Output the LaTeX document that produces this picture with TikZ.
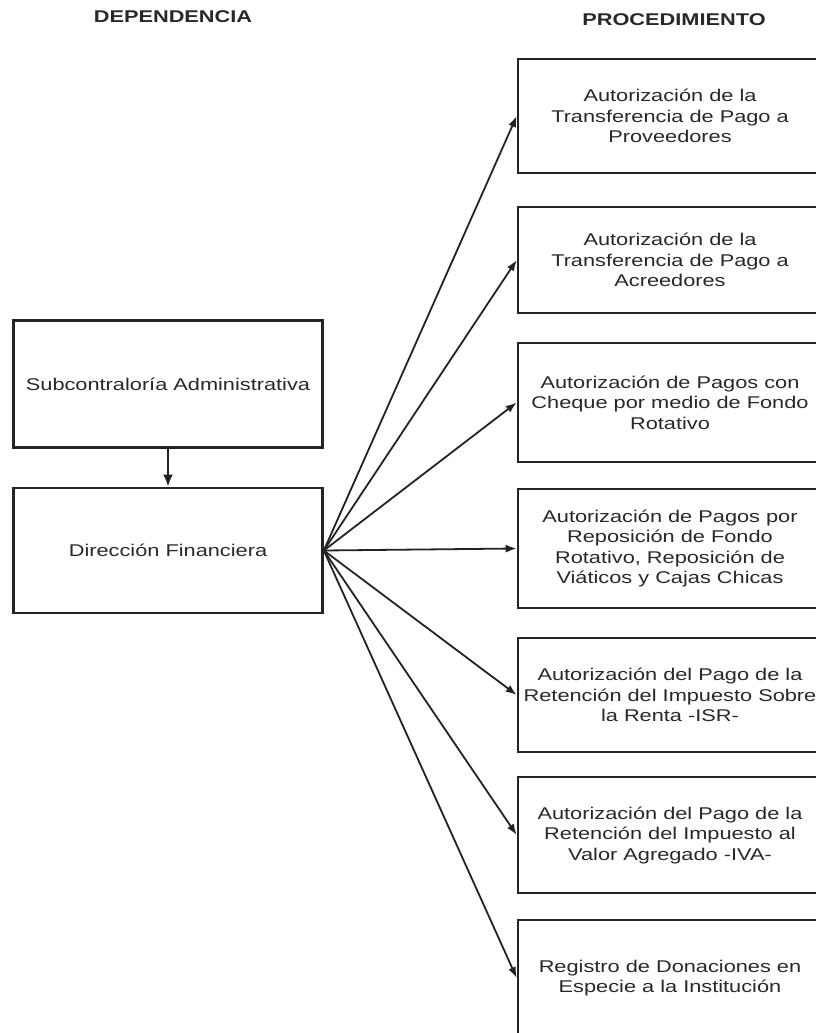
\documentclass[tikz,border=0pt]{standalone}
\usepackage{fontspec}
\setmainfont{Liberation Sans}[FakeStretch=1.28]
\definecolor{scanblack}{RGB}{35,35,35}
\definecolor{scantext}{RGB}{40,40,40}
\usepackage{tikz}
\usetikzlibrary{arrows.meta,positioning}

\begin{document}
\begin{tikzpicture}[x=1pt, y=-1pt,
  box/.style={draw=scanblack, line width=2.6pt, rectangle, align=center, text=scantext,
    font=\fontsize{17}{20.5}\selectfont, inner sep=0pt},
  leftbox/.style={box, minimum width=309pt, minimum height=127pt},
  procbox/.style={box, minimum width=304pt},
  head/.style={font=\fontsize{17}{20}\selectfont\bfseries, text=scantext},
  link/.style={draw=scanblack, line width=1.8pt, -{Latex[length=11pt,width=8pt]}}]
\useasboundingbox (0,0) rectangle (816,1033);
\clip (0,0) rectangle (816,1033);
% Headers
\node[head] (hdep) at (173,17) {DEPENDENCIA};
\node[head] (hproc) at (674,20) {PROCEDIMIENTO};
% Dependencia
\node[leftbox] (sub) at (168,384) {Subcontraloría Administrativa};
\node[leftbox, minimum height=125pt] (dir) at (168,550.5) {Dirección Financiera};
\draw[link, line width=2.4pt, -{Latex[length=12pt,width=10pt]}] (sub) -- (dir);
% Procedimientos
\node[procbox, minimum height=114pt] (p1) at (670,116) {Autorización de la\\Transferencia de Pago a\\Proveedores};
\node[procbox, minimum height=106pt] (p2) at (670,260) {Autorización de la\\Transferencia de Pago a\\Acreedores};
\node[procbox, minimum height=119pt] (p3) at (670,402.5) {Autorización de Pagos con\\Cheque por medio de Fondo\\Rotativo};
\node[procbox, minimum height=119pt] (p4) at (670,548.5) {Autorización de Pagos por\\Reposición de Fondo\\Rotativo, Reposición de\\Viáticos y Cajas Chicas};
\node[procbox, minimum height=114pt] (p5) at (670,695) {Autorización del Pago de la\\Retención del Impuesto Sobre\\la Renta -ISR-};
\node[procbox, minimum height=116pt] (p6) at (670,835) {Autorización del Pago de la\\Retención del Impuesto al\\Valor Agregado -IVA-};
\node[procbox, minimum height=116pt] (p7) at (670,978) {Registro de Donaciones en\\Especie a la Institución};
% Arrows
\foreach \p in {p1,p2,p3,p4,p5,p6,p7}
  \draw[link] (dir.east) -- (\p.west);
\end{tikzpicture}
\end{document}
